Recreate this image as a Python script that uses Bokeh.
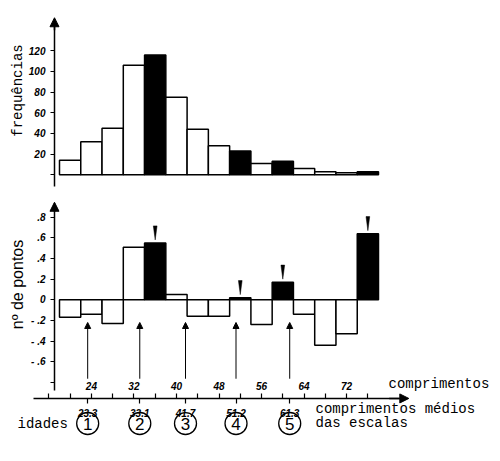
import numpy as np
from bokeh.plotting import figure
from bokeh.models import (Range1d, LinearAxis, FixedTicker, Arrow, NormalHead,
                          Label, ColumnDataSource)
from bokeh.core.properties import value
from bokeh.embed import file_html
from bokeh.resources import INLINE

# ---------------- data ----------------
bin_left = [18, 22, 26, 30, 34, 38, 42, 46, 50, 54, 58, 62, 66, 70, 74]
bin_width = 4
frequencias = [14, 32, 45, 106, 116, 75, 44, 28, 23, 11, 13, 6, 3, 2, 3]
pontos = [-0.17, -0.14, -0.23, 0.51, 0.55, 0.05, -0.16, -0.16, 0.02,
          -0.24, 0.17, -0.14, -0.44, -0.33, 0.64]
destaque = [False, False, False, False, True, False, False, False, True,
            False, True, False, False, False, True]

freq_ticks = [0, 20, 40, 60, 80, 100, 120]
pontos_ticks = [-0.8, -0.6, -0.4, -0.2, 0, 0.2, 0.4, 0.6, 0.8]
pontos_tick_labels = ["", "- .6", "- .4", "- .2", "0", ".2", ".4", ".6", ".8"]
comp_ticks = [16, 20, 24, 28, 32, 36, 40, 44, 48, 52, 56, 60, 64, 68, 72, 76]
comp_labeled = [24, 32, 40, 48, 56, 64, 72]
medias = [23.3, 33.1, 41.7, 51.2, 61.3]
medias_labels = ["23.3", "33.1", "41.7", "51.2", "61.3"]
idades = ["1", "2", "3", "4", "5"]

# ---------------- figure ----------------
W, H = 492, 445
p = figure(width=W, height=H, output_backend="svg", toolbar_location=None,
           x_axis_type=None, y_axis_type=None,
           x_range=Range1d(6.904, 99.44), y_range=Range1d(-1.412, 2.900),
           min_border=0, min_border_left=0, min_border_right=0,
           min_border_top=0, min_border_bottom=0)
p.outline_line_color = None
p.background_fill_color = "white"
p.border_fill_color = "white"
p.extra_y_ranges = {"freq": Range1d(-262.0, 168.7)}

left = np.array(bin_left, dtype=float)
right = left + bin_width
fills = ["black" if d else "white" for d in destaque]

src_top = ColumnDataSource(dict(left=left, right=right,
                                top=frequencias, bottom=[0] * len(left), fill=fills))
src_bot = ColumnDataSource(dict(left=left, right=right,
                                top=pontos, bottom=[0] * len(left), fill=fills))

p.quad(left="left", right="right", top="top", bottom="bottom", source=src_top,
       fill_color="fill", line_color="black", line_width=1.5, y_range_name="freq")
p.quad(left="left", right="right", top="top", bottom="bottom", source=src_bot,
       fill_color="fill", line_color="black", line_width=1.5)

AX_X = 17.06          # position of vertical axes (length units)
XAX_Y = -0.956        # position of horizontal axis (pontos units)
lab_font = "Liberation Sans"

def style_axis(ax):
    ax.axis_line_color = "black"
    ax.axis_line_width = 1.5
    ax.major_tick_line_color = "black"
    ax.major_tick_line_width = 1.2
    ax.minor_tick_line_color = None
    ax.major_label_text_font = lab_font
    ax.major_label_text_font_style = "bold italic"
    ax.major_label_text_font_size = "10px"
    ax.major_label_text_color = "black"

# top y axis (frequencias)
ax1 = LinearAxis(y_range_name="freq", fixed_location=AX_X, bounds=(-11.6, 150),
                 ticker=FixedTicker(ticks=freq_ticks),
                 major_label_overrides={t: ("" if t == 0 else str(t)) for t in freq_ticks})
style_axis(ax1)
ax1.major_tick_out = 4
ax1.major_tick_in = 0
ax1.major_label_standoff = 5
p.add_layout(ax1, "left")

# bottom y axis (pontos)
ax2 = LinearAxis(fixed_location=AX_X, bounds=(-0.879, 0.93),
                 ticker=FixedTicker(ticks=pontos_ticks),
                 major_label_overrides={t: l for t, l in zip(pontos_ticks, pontos_tick_labels)})
style_axis(ax2)
ax2.major_tick_out = 4
ax2.major_tick_in = 0
ax2.major_label_standoff = 5
p.add_layout(ax2, "left")

# horizontal axis: comprimentos (labels above)
ax3 = LinearAxis(fixed_location=XAX_Y, bounds=(13.1, 82.0),
                 ticker=FixedTicker(ticks=comp_ticks),
                 major_label_overrides={t: (str(t) if t in comp_labeled else "") for t in comp_ticks})
style_axis(ax3)
ax3.major_tick_out = 5
ax3.major_tick_in = 0
ax3.major_label_standoff = 3
p.add_layout(ax3, "above")

# horizontal axis: comprimentos medios (labels below)
ax4 = LinearAxis(fixed_location=XAX_Y,
                 ticker=FixedTicker(ticks=medias),
                 major_label_overrides={t: l for t, l in zip(medias, medias_labels)})
style_axis(ax4)
ax4.axis_line_color = None
ax4.major_tick_out = 5
ax4.major_tick_in = 0
ax4.major_label_standoff = 6
p.add_layout(ax4, "below")

# axis arrow heads
p.add_layout(Arrow(x_start=AX_X, y_start=140, x_end=AX_X, y_end=152,
                   y_range_name="freq", line_width=1.5,
                   end=NormalHead(size=9, fill_color="black", line_color="black")))
p.add_layout(Arrow(x_start=AX_X, y_start=0.85, x_end=AX_X, y_end=0.945,
                   line_width=1.5,
                   end=NormalHead(size=9, fill_color="black", line_color="black")))
p.add_layout(Arrow(x_start=80, y_start=XAX_Y, x_end=83.7, y_end=XAX_Y,
                   line_width=1.5,
                   end=NormalHead(size=9, fill_color="black", line_color="black")))

# arrows pointing to mean lengths
for m in medias:
    p.add_layout(Arrow(x_start=m, y_start=-0.765, x_end=m, y_end=-0.22,
                       line_width=1,
                       end=NormalHead(size=6, fill_color="black", line_color="black")))

# wedge markers above the highlighted bars
wx, wy = [], []
for l, v, d in zip(bin_left, pontos, destaque):
    if d:
        c = l + bin_width / 2
        base = v + 0.03
        wx.append([c - 0.35, c + 0.35, c])
        wy.append([base + 0.136, base + 0.136, base])
p.patches(xs=wx, ys=wy, fill_color="black", line_color="black", line_width=0.5)

# ages: circled numbers at the mean lengths
age_y = [-1.199] * len(medias)
p.scatter(x=medias, y=age_y, marker="circle", size=22, fill_color=None,
          line_color="black", line_width=1.3)
p.text(x=medias, y=age_y, text=idades, text_align="center", text_baseline="middle",
       text_font=value("Liberation Sans"), text_font_size="17px", text_color="black")

# texts
mono = "Liberation Mono"
def scr_label(x, y, text, font=mono, size="14px", align="left", angle=0.0):
    p.add_layout(Label(x=x, y=y, x_units="screen", y_units="screen", text=text,
                       text_font=font, text_font_size=size, text_align=align,
                       text_baseline="middle", angle=angle, text_color="black"))

scr_label(17, 355, "frequências", align="center", angle=np.pi / 2)
scr_label(17, 161, "nº de pontos", font="Liberation Sans", size="16px",
          align="center", angle=np.pi / 2)
scr_label(388, 62, "comprimentos")
scr_label(315, 37, "comprimentos médios")
scr_label(315, 23, "das escalas")
scr_label(17, 22, "idades")

open("out.html", "w").write(file_html(p, INLINE))
